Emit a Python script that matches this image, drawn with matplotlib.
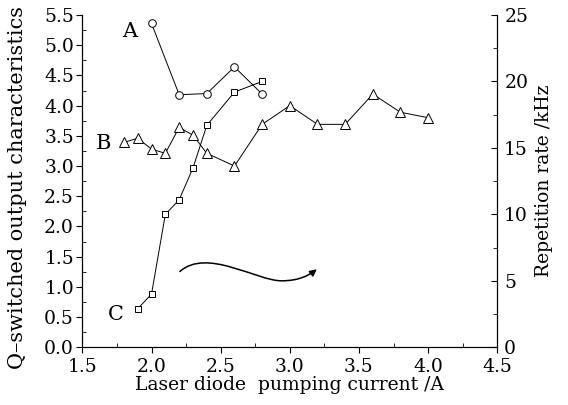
import numpy as np
import matplotlib
matplotlib.use("Agg")
import matplotlib.pyplot as plt
from matplotlib.path import Path
from matplotlib.patches import FancyArrowPatch
from matplotlib.ticker import MultipleLocator, FormatStrFormatter

# curve A (circles), left axis
a_x = [2.0, 2.2, 2.4, 2.6, 2.8]
a_y = [5.36, 4.18, 4.20, 4.64, 4.19]

# curve B (triangles), left axis
b_x = [1.8, 1.9, 2.0, 2.1, 2.2, 2.3, 2.4, 2.6, 2.8, 3.0, 3.2, 3.4, 3.6, 3.8, 4.0]
b_y = [3.39, 3.46, 3.28, 3.21, 3.64, 3.51, 3.21, 3.00, 3.69, 4.00, 3.69, 3.69, 4.19, 3.89, 3.80]

# curve C (squares), repetition rate in kHz, right axis
c_x = [1.9, 2.0, 2.1, 2.2, 2.3, 2.4, 2.6, 2.8]
c_khz = [2.9, 4.0, 10.0, 11.1, 13.5, 16.7, 19.2, 20.0]

plt.rcParams['font.family'] = ['DejaVu Serif']

fig = plt.figure(figsize=(5.68, 4.05), dpi=100)
ax = fig.add_axes([0.145, 0.1425, 0.7305, 0.8205])
ax2 = ax.twinx()

line_kw = dict(color='k', lw=0.7, markerfacecolor='white', markeredgecolor='k', markeredgewidth=0.7)
ax.plot(a_x, a_y, marker='o', ms=5.5, **line_kw)
ax.plot(b_x, b_y, marker='^', ms=6.5, **line_kw)
ax2.plot(c_x, c_khz, marker='s', ms=5, **line_kw)

ax.set_xlim(1.5, 4.5)
ax.set_ylim(0, 5.5)
ax2.set_ylim(0, 25)

ax.xaxis.set_major_locator(MultipleLocator(0.5))
ax.xaxis.set_minor_locator(MultipleLocator(0.25))
ax.yaxis.set_major_locator(MultipleLocator(0.5))
ax.yaxis.set_minor_locator(MultipleLocator(0.25))
ax2.yaxis.set_major_locator(MultipleLocator(5))
ax2.yaxis.set_minor_locator(MultipleLocator(2.5))
ax.xaxis.set_major_formatter(FormatStrFormatter('%.1f'))
ax.yaxis.set_major_formatter(FormatStrFormatter('%.1f'))

ax.tick_params(which='major', direction='out', length=4, width=0.8, labelsize=13.5, pad=2, top=False)
ax.tick_params(axis='x', which='major', pad=4)
ax.tick_params(which='minor', direction='in', length=3, width=0.6, top=False)
ax2.tick_params(which='both', direction='in', labelsize=13.5, pad=5)
ax2.tick_params(which='major', length=4, width=0.8)
ax2.tick_params(which='minor', length=3, width=0.6)

ax.spines['top'].set_visible(False)
ax2.spines['top'].set_visible(False)

ax.set_xlabel('Laser diode  pumping current /A', fontsize=13.5, labelpad=0)
ax.set_ylabel('Q\u2013switched output characteristics', fontsize=15)
ax.yaxis.set_label_coords(-0.133, 0.48)
ax2.set_ylabel('Repetition rate /kHz', fontsize=13.5, labelpad=5)

# curve letters
ax.text(0.115, 0.95, 'A', transform=ax.transAxes, fontsize=15, ha='center', va='center')
ax.text(0.05, 0.612, 'B', transform=ax.transAxes, fontsize=15, ha='center', va='center')
ax.text(0.08, 0.10, 'C', transform=ax.transAxes, fontsize=15, ha='center', va='center')

# wavy arrow
verts = [(0.235, 0.228), (0.30, 0.30), (0.42, 0.20), (0.48, 0.20), (0.52, 0.20), (0.545, 0.215), (0.565, 0.235)]
codes = [Path.MOVETO, Path.CURVE4, Path.CURVE4, Path.CURVE4, Path.CURVE4, Path.CURVE4, Path.CURVE4]
arrow = FancyArrowPatch(path=Path(verts, codes), arrowstyle='-|>', mutation_scale=10,
                        color='k', lw=1.1, transform=ax.transAxes)
ax.add_patch(arrow)

fig.savefig('out.png', dpi=100)
